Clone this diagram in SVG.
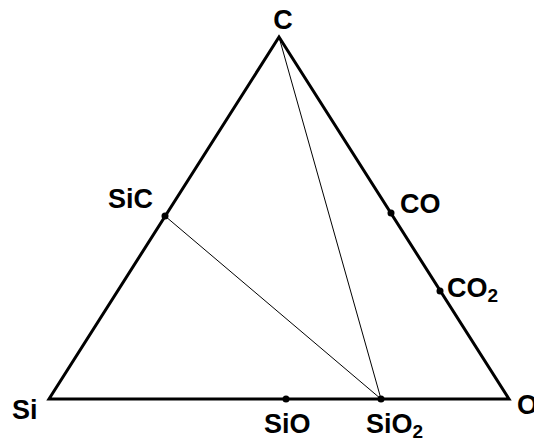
<svg xmlns="http://www.w3.org/2000/svg" width="534" height="441" viewBox="0 0 534 441">
<style>
.lbl{font-family:"Liberation Sans",Arial,sans-serif;font-weight:bold;font-size:27px;fill:#000}
.sub{font-size:19px}
.dot{fill:#000}
</style>
<rect width="534" height="441" fill="#fff"/>
<g id="connectors" stroke="#000" fill="none">
<polygon points="279,37 49,399 509,399" stroke-width="3" stroke-linejoin="miter"/>
<line x1="279" y1="37" x2="381" y2="399" stroke-width="1"/>
<line x1="165" y1="216" x2="381" y2="399" stroke-width="1"/>
</g>
<g id="C"><text class="lbl" x="283" y="29" text-anchor="middle">C</text></g>
<g id="Si"><text class="lbl" x="12" y="419">Si</text></g>
<g id="O"><text class="lbl" x="517" y="414">O</text></g>
<g id="SiC"><circle class="dot" cx="165" cy="216" r="3.5"/><text class="lbl" x="108" y="208">SiC</text></g>
<g id="CO"><circle class="dot" cx="391" cy="213" r="3.5"/><text class="lbl" x="400" y="213">CO</text></g>
<g id="CO2"><circle class="dot" cx="440" cy="291" r="3.5"/><text class="lbl" x="447" y="297">CO<tspan class="sub" dy="5">2</tspan></text></g>
<g id="SiO"><circle class="dot" cx="286" cy="399" r="3.5"/><text class="lbl" x="264" y="433">SiO</text></g>
<g id="SiO2"><circle class="dot" cx="381" cy="399" r="3.5"/><text class="lbl" x="366" y="433">SiO<tspan class="sub" dy="5">2</tspan></text></g>
</svg>
